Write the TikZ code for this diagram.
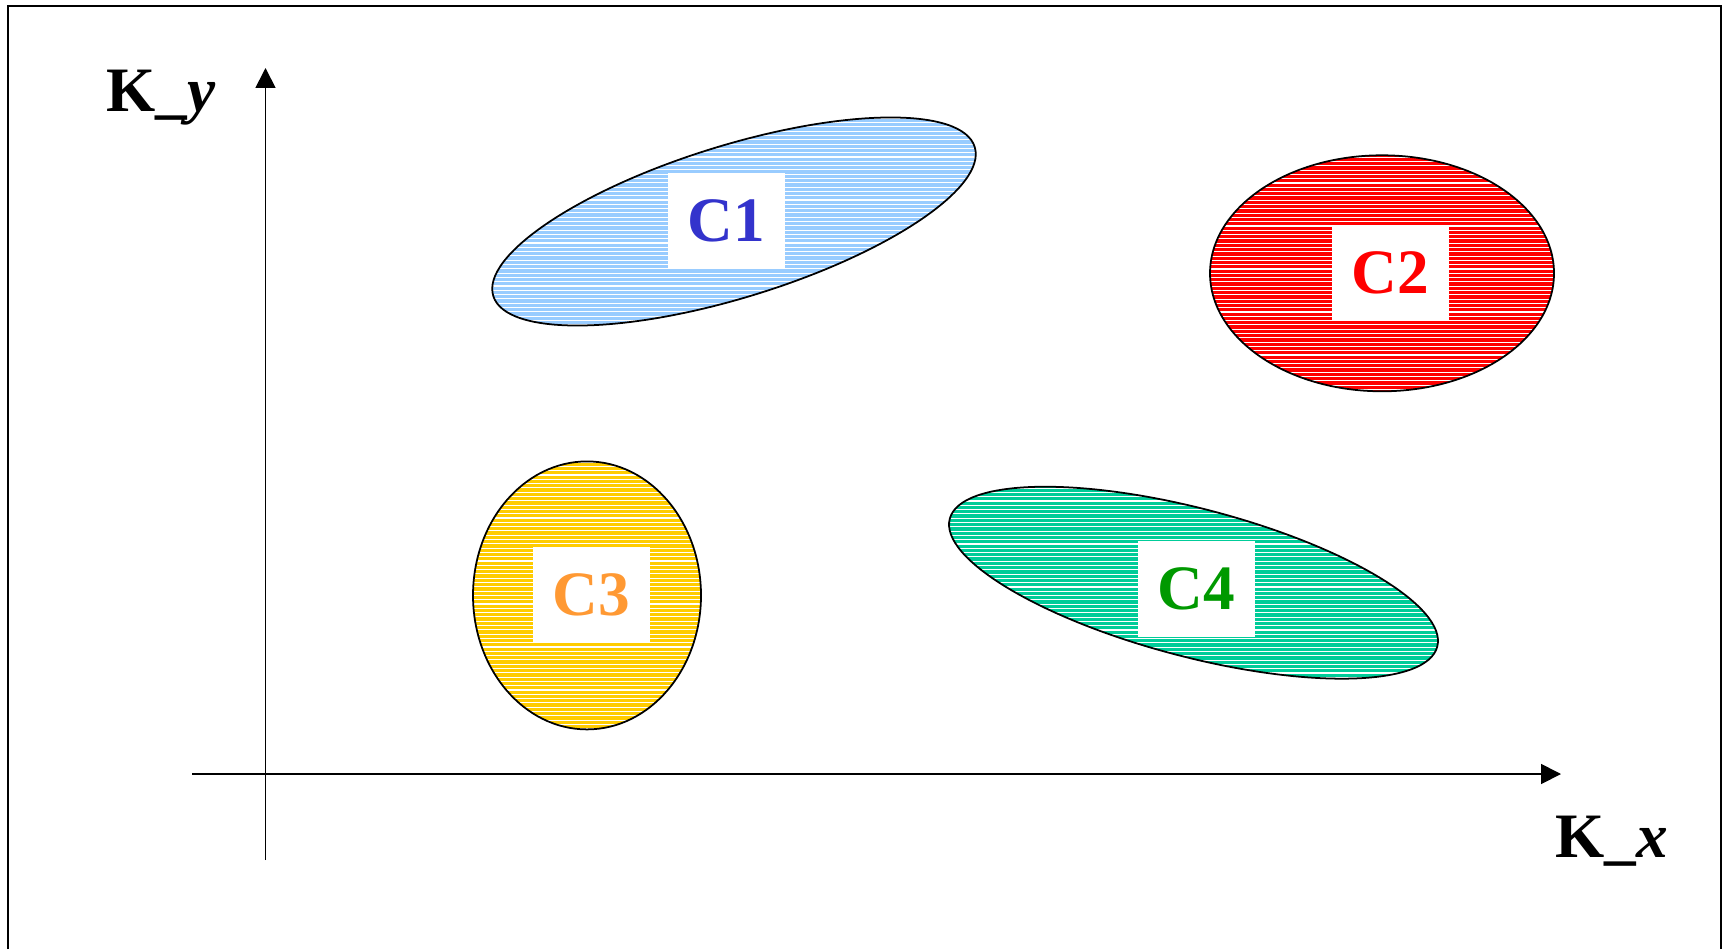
\documentclass[tikz,border=0pt]{standalone}
\usepackage{fontspec}
\setmainfont{Liberation Serif}
\usetikzlibrary{arrows.meta}

\definecolor{coneFill}{HTML}{99CCFF}
\definecolor{coneText}{HTML}{3333CC}
\definecolor{ctwoFill}{HTML}{FF0000}
\definecolor{cthreeFill}{HTML}{FFCC00}
\definecolor{cthreeText}{HTML}{FF9933}
\definecolor{cfourFill}{HTML}{00CC99}
\definecolor{cfourText}{HTML}{009900}

\begin{document}
\begin{tikzpicture}[
		outline/.style={draw=black, line width=0.5pt},
		stripe/.style={white, line width=0.32pt},
		labelbox/.style={fill=white, minimum width=1.17cm, minimum height=0.96cm, inner sep=0pt,
			font=\bfseries\fontsize{18}{20}\selectfont},
		axis/.style={line width=0.5pt, -{Triangle[length=0.2cm,width=0.2cm]}},
		axislabel/.style={anchor=base west, inner sep=0pt, font=\bfseries\fontsize{18}{20}\selectfont}
	]
			\useasboundingbox (0, 0) rectangle (17.24, 9.49);
			% frame, open at the bottom
			\draw[line width=0.5pt] (0.08, 0) -- (0.08, 9.43) -- (17.21, 9.43) -- (17.21, 0);

			% axes
			\coordinate (xstart) at (1.92, 1.75);
			\coordinate (xend) at (15.61, 1.75);
			\coordinate (ystart) at (2.655, 0.89);
			\coordinate (yend) at (2.655, 8.81);
			\draw[axis] (xstart) -- (xend);
			\draw[axis] (ystart) -- (yend);
			\node[axislabel] (ky) at (1.06, 8.37) {K\_\textit{y}};
			\node[axislabel] (kx) at (15.55, 0.92) {K\_\textit{x}};

			% clusters: coloured fill with thin white stripes
			\foreach \cx/\cy/\rx/\ry/\ang/\col in {7.34/7.275/2.52/0.76/17.2/coneFill,
					13.82/6.757/1.72/1.18/0/ctwoFill,
					5.87/3.536/1.14/1.34/0/cthreeFill,
					11.935/3.663/2.52/0.74/-14.7/cfourFill} {
				\begin{scope}
					\clip[shift={(\cx, \cy)}, rotate=\ang] (0, 0) ellipse [x radius=\rx, y radius=\ry];
					\fill[\col] ({\cx-3}, {\cy-2}) rectangle ({\cx+3}, {\cy+2});
					\foreach \k in {-45,...,45}
						\draw[stripe] ({\cx-3}, {\cy+\k*0.043}) -- ++(6, 0);
				\end{scope}
				\draw[outline, shift={(\cx, \cy)}, rotate=\ang] (0, 0) ellipse [x radius=\rx, y radius=\ry];
			}

			\node[labelbox, text=coneText] (c1) at (7.26, 7.28) {C1};
			\node[labelbox, text=ctwoFill] (c2) at (13.90, 6.76) {C2};
			\node[labelbox, text=cthreeText] (c3) at (5.91, 3.537) {C3};
			\node[labelbox, text=cfourText] (c4) at (11.96, 3.60) {C4};
		\end{tikzpicture}
\end{document}
